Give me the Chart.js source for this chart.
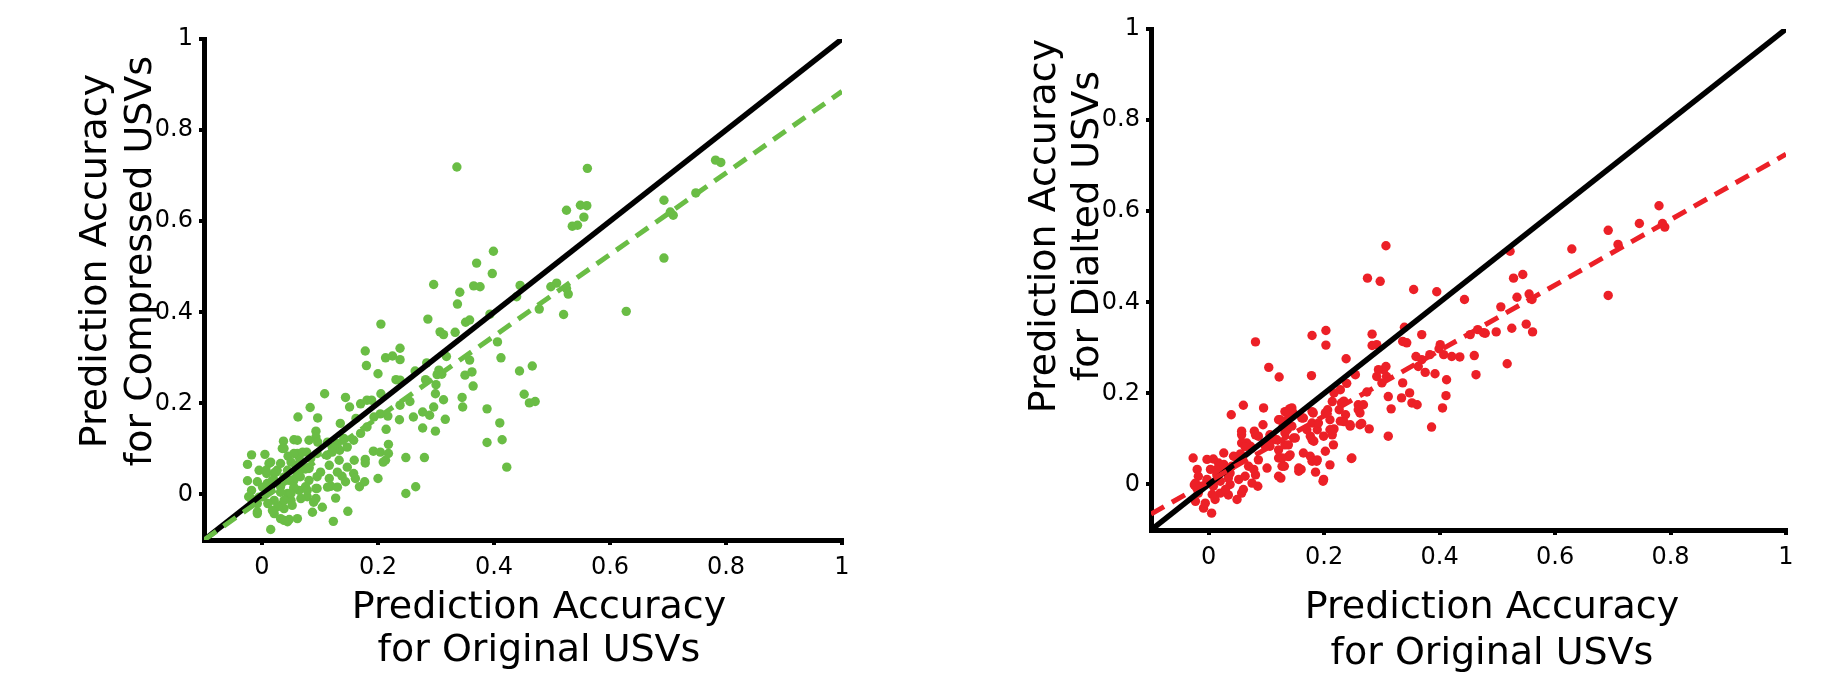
<!DOCTYPE html>
<html>
<head>
<meta charset="utf-8">
<script src="https://cdn.jsdelivr.net/npm/chart.js@4"></script>
<style>
  html, body { margin: 0; padding: 0; background: #fff; }
  #wrap { position: relative; width: 1845px; height: 676px; }
  canvas { position: absolute; top: 0; }
</style>
</head>
<body>
<div id="wrap">
  <canvas id="compressedChart" width="923" height="676" style="left:0px"></canvas>
  <canvas id="dilatedChart" width="922" height="676" style="left:923px"></canvas>
</div>
<script>
// axis range and ticks (same for both panels)
const axisMin = -0.1;
const axisMax = 1;
const tickValues = [0, 0.2, 0.4, 0.6, 0.8, 1];
const tickLabels = ['0', '0.2', '0.4', '0.6', '0.8', '1'];

// [original accuracy, compressed accuracy]
const compressedPairs = [
  [0.336,0.719],[0.561,0.716],
  [0.525,0.624],[0.549,0.635],[0.560,0.634],[0.555,0.609],[0.535,0.589],[0.544,0.591],
  [0.693,0.646],[0.709,0.613],[0.704,0.620],[0.693,0.519],[0.748,0.662],[0.782,0.734],[0.791,0.729],
  [0.399,0.534],[0.370,0.508],[0.397,0.485],[0.296,0.461],[0.341,0.444],[0.337,0.418],[0.365,0.458],[0.376,0.456],
  [0.445,0.459],[0.439,0.434],[0.498,0.456],[0.508,0.464],[0.525,0.452],[0.528,0.440],[0.478,0.407],[0.520,0.395],[0.628,0.402],
  [0.393,0.396],[0.351,0.378],[0.358,0.383],[0.286,0.385],[0.205,0.374],[0.307,0.357],[0.313,0.351],[0.333,0.356],
  [0.406,0.335],[0.412,0.300],[0.318,0.303],[0.358,0.295],[0.350,0.262],[0.362,0.269],[0.364,0.238],[0.444,0.271],
  [0.466,0.282],[0.452,0.220],[0.461,0.201],[0.471,0.204],
  [0.284,0.289],[0.305,0.273],[0.302,0.263],[0.310,0.264],[0.300,0.241],[0.299,0.221],[0.313,0.208],[0.296,0.192],
  [0.289,0.174],[0.277,0.181],[0.282,0.252],[0.264,0.271],[0.345,0.213],[0.346,0.192],[0.388,0.188],[0.410,0.157],
  [0.388,0.114],[0.414,0.120],[0.422,0.060],[0.316,0.165],[0.299,0.139],[0.277,0.146],[0.261,0.170],[0.255,0.204],
  [0.237,0.164],[0.217,0.172],[0.214,0.143],[0.218,0.110],[0.280,0.081],[0.248,0.081],[0.200,0.035],[0.248,0.002],[0.265,0.017],
  [0.178,0.315],[0.180,0.283],[0.200,0.265],[0.205,0.221],[0.213,0.300],[0.225,0.304],[0.238,0.321],[0.238,0.296],
  [0.231,0.252],[0.238,0.251],[0.238,0.196],
  [0.108,0.221],[0.144,0.213],[0.151,0.192],[0.170,0.199],[0.181,0.207],[0.189,0.207],[0.083,0.191],[0.062,0.170],
  [0.096,0.168],[0.135,0.156],[0.093,0.139],[0.093,0.126],[0.081,0.119],[0.055,0.120],[0.037,0.117],[0.035,0.101],
  [0.045,0.084],[0.061,0.090],[0.077,0.093],[0.095,0.090],[0.112,0.086],[0.134,0.097],[0.147,0.104],[0.158,0.119],
  [0.170,0.134],[0.181,0.148],[0.193,0.170],[0.204,0.177],[0.162,0.167],[0.141,0.123],[0.130,0.112],[0.121,0.093],
  [-0.018,0.087],[0.005,0.088],[-0.025,0.066],[0.012,0.068],[-0.005,0.053],[0.008,0.046],[0.026,0.053],[-0.025,0.030],
  [-0.008,0.028],[-0.018,0.009],[-0.023,-0.005],[-0.008,-0.020],[-0.008,-0.042],[0.001,-0.005],[0.009,0.024],[0.021,0.031],
  [0.032,0.017],[0.044,0.002],[0.021,-0.013],[0.021,-0.042],[0.032,-0.053],[0.044,-0.060],[0.061,-0.053],[0.015,-0.077],
  [0.038,-0.031],[0.050,-0.013],[0.064,0.009],[0.078,-0.005],[0.087,-0.039],[0.089,-0.017],[0.095,0.013],[0.081,0.031],
  [0.095,0.039],[0.066,0.039],[0.055,0.031],[0.044,0.053],[0.058,0.064],[0.075,0.056],[0.104,-0.028],[0.123,-0.059],
  [0.127,-0.008],[0.119,0.018],[0.138,0.040],[0.144,0.028],[0.148,-0.037],[0.158,0.046],[0.168,0.017],[0.177,0.028],
  [0.178,0.077],[0.178,0.069],[0.192,0.095],[0.204,0.093],[0.213,0.075],[0.218,0.090],
  [0.064,0.082],[0.081,0.060],[0.061,0.045],[0.055,0.013],[0.075,0.017],[0.032,0.068],[0.021,0.047],
  [0.209,0.071],[0.159,0.075],[0.147,0.060],[0.161,0.035],[0.093,-0.009],[0.078,0.009],[0.047,-0.055],[0.038,-0.057],
  [0.032,-0.024],[0.052,-0.024],[0.067,-0.009],[0.116,0.035],[0.130,0.049],[0.116,0.064],[0.133,0.075],[0.121,0.104],
  [0.113,0.115],[0.096,0.115],[0.061,0.119],[0.038,0.101],[0.055,0.090],[0.070,0.093],[0.084,0.079],[0.067,0.071],
  [0.050,0.071],[0.015,0.071],[0.007,0.053],[-0.019,-0.009],[-0.005,-0.006],[0.001,0.016],[0.015,0.009],[0.018,0.031],
  [0.024,0.049],[0.038,0.038],[0.047,0.031],[0.055,0.016],[0.050,0.002],[0.038,-0.013],[0.027,-0.027],[0.018,-0.035],
  [0.010,-0.020],[-0.008,-0.038],[0.032,0.005],[0.064,0.053],[0.081,0.057],[0.093,0.013],[0.101,0.049],[0.113,0.016],[0.130,0.016]
];

// [original accuracy, dilated accuracy]
const dilatedPairs = [
  [0.307,0.524],[0.275,0.453],[0.297,0.446],[0.355,0.428],[0.395,0.423],[0.443,0.406],[0.522,0.512],[0.629,0.517],
  [0.528,0.453],[0.544,0.461],[0.534,0.411],[0.555,0.418],[0.560,0.406],[0.506,0.390],[0.525,0.343],[0.550,0.352],
  [0.561,0.335],[0.517,0.265],[0.498,0.335],[0.479,0.332],[0.466,0.340],[0.453,0.329],[0.460,0.283],[0.463,0.241],
  [0.435,0.280],[0.421,0.281],[0.407,0.285],[0.401,0.307],[0.383,0.285],[0.369,0.274],[0.359,0.281],[0.363,0.259],
  [0.375,0.246],[0.392,0.243],[0.412,0.230],[0.411,0.195],[0.405,0.168],[0.386,0.126],[0.369,0.329],[0.339,0.345],
  [0.343,0.311],[0.336,0.314],[0.336,0.223],[0.348,0.201],[0.334,0.190],[0.352,0.179],[0.361,0.175],[0.311,0.193],
  [0.316,0.166],[0.311,0.106],[0.291,0.237],[0.303,0.252],[0.307,0.259],[0.294,0.252],[0.283,0.305],[0.291,0.307],
  [0.283,0.330],[0.238,0.276],[0.254,0.241],[0.239,0.222],[0.228,0.208],[0.217,0.201],[0.206,0.164],[0.210,0.142],
  [0.217,0.122],[0.199,0.106],[0.210,0.043],[0.198,0.007],[0.247,0.057],[0.262,0.131],[0.278,0.122],[0.262,0.157],
  [0.259,0.175],[0.228,0.139],[0.245,0.128],[0.234,0.183],[0.226,0.164],[0.179,0.327],[0.203,0.338],[0.203,0.306],
  [0.178,0.239],[0.122,0.236],[0.104,0.257],[0.081,0.313],[0.039,0.153],[0.060,0.174],[0.095,0.168],[0.140,0.166],
  [0.146,0.157],[0.164,0.146],[0.181,0.157],[0.179,0.135],[0.188,0.120],[0.176,0.106],[0.182,0.095],[0.164,0.069],
  [0.176,0.062],[0.188,0.054],[0.185,0.027],[0.160,0.033],[0.156,0.029],[0.131,0.040],[0.125,0.014],[0.121,0.058],
  [0.141,0.065],[0.132,0.087],[0.147,0.102],[0.136,0.120],[0.136,0.142],[0.129,0.128],[0.144,0.128],[0.121,0.142],
  [0.098,0.084],[0.105,0.091],[0.112,0.102],[0.094,0.131],[0.086,0.106],[0.079,0.117],[0.072,0.084],[0.066,0.091],
  [0.057,0.091],[0.057,0.117],[0.055,0.067],[0.069,0.040],[0.078,0.033],[0.085,-0.004],[0.075,0.003],[0.101,0.036],
  [0.060,-0.011],[0.049,-0.033],[0.052,0.011],[0.037,0.025],[0.037,0.000],[0.026,0.069],[0.017,0.047],[0.014,0.033],
  [0.026,0.044],[0.003,0.033],[-0.020,0.033],[-0.027,0.058],[-0.003,0.055],[0.008,0.056],[0.043,0.062],[0.032,0.025],
  [-0.003,0.007],[0.008,-0.004],[0.020,-0.019],[0.034,-0.023],[0.011,-0.033],[-0.009,-0.052],[0.005,-0.063],[-0.023,-0.037],
  [-0.025,-0.001],[-0.018,0.018],[-0.012,-0.004],[0.020,0.007],
  [0.399,0.298],[0.476,0.333],[0.308,0.237],[0.300,0.223],[0.274,0.203],[0.268,0.175],[0.265,0.134],
  [0.692,0.558],[0.692,0.415],[0.709,0.527],[0.746,0.573],[0.780,0.612],[0.790,0.565],[0.786,0.573],
  [0.144,0.150],[0.046,0.061],[0.057,0.109],[0.081,0.109],[0.106,0.109],[0.063,0.083],[0.075,0.080],[0.086,0.054],
  [0.081,0.021],[0.063,0.018],[0.057,-0.019],[0.029,-0.011],[0.006,-0.022],[-0.006,-0.041],[-0.018,-0.019],[-0.023,0.003],
  [-0.003,0.011],[0.014,0.022],[0.029,0.033],[0.034,0.014],[0.040,0.040],[0.121,0.018],[0.127,0.040],[0.138,0.061],
  [0.127,0.058],[0.156,0.036],[0.179,0.051],[0.199,0.011],[0.187,0.051],[0.202,0.073],[0.216,0.087],[0.214,0.109],
  [0.210,0.120],[0.190,0.135],[0.179,0.098],[0.170,0.120],[0.161,0.146],[0.179,0.160],[0.202,0.157],[0.214,0.182],
  [0.230,0.179],[0.237,0.153],[0.234,0.138],[0.245,0.131],[0.248,0.058],[0.259,0.164],[0.150,0.102],[0.138,0.087],
  [0.132,0.113],[0.118,0.098],[0.121,0.076],[0.106,0.084],[0.124,0.142],[0.132,0.160],[0.144,0.168]
];

// unity line and fitted lines (end points)
const lineX = [-0.1, 1];
const unityY = [-0.1, 1];
const compressedFitY = [-0.1, 0.885];
const dilatedFitY = [-0.065, 0.725];

const green = '#6abd45';
const red = '#ec2027';

function toPoints(pairs) {
  return pairs.map(p => ({ x: p[0], y: p[1] }));
}
function toLine(xs, ys) {
  return xs.map((x, i) => ({ x: x, y: ys[i] }));
}

// draws the two-line axis titles where the figure has them
const axisTitles = {
  id: 'axisTitles',
  afterDraw(chart, args, opts) {
    const ctx = chart.ctx;
    ctx.save();
    ctx.fillStyle = '#000';
    ctx.font = opts.font;
    ctx.textAlign = 'center';
    ctx.textBaseline = 'middle';
    opts.lines.forEach(l => {
      ctx.save();
      ctx.translate(l.x, l.y);
      if (l.vertical) ctx.rotate(-Math.PI / 2);
      ctx.fillText(l.text, 0, 0);
      ctx.restore();
    });
    ctx.restore();
  }
};

function axisOptions(fitSize, horizontal) {
  return {
    type: 'linear',
    min: axisMin,
    max: axisMax,
    afterBuildTicks: scale => { scale.ticks = tickValues.map(v => ({ value: v })); },
    afterFit: scale => {
      if (horizontal) scale.height = fitSize; else scale.width = fitSize;
    },
    ticks: {
      callback: v => tickLabels[tickValues.indexOf(v)],
      font: { family: 'DejaVu Sans', size: 24 },
      color: '#000',
      padding: horizontal ? 8 : 6,
      maxRotation: 0,
      autoSkip: false
    },
    grid: {
      display: true,
      drawOnChartArea: false,
      drawTicks: true,
      tickLength: 5,
      lineWidth: 4,
      color: '#000'
    },
    border: { display: true, width: 5, color: '#000' }
  };
}

function makeChart(id, pairs, fitY, color, layout, titles) {
  const ctx = document.getElementById(id).getContext('2d');
  return new Chart(ctx, {
    type: 'scatter',
    data: {
      datasets: [
        {
          data: toLine(lineX, fitY),
          showLine: true,
          borderColor: color,
          borderWidth: 5,
          borderDash: [15, 9],
          pointRadius: 0,
          order: 0
        },
        {
          data: toLine(lineX, unityY),
          showLine: true,
          borderColor: '#000',
          borderWidth: 5.5,
          pointRadius: 0,
          order: 1
        },
        {
          data: toPoints(pairs),
          pointRadius: 4.7,
          pointBackgroundColor: color,
          pointBorderWidth: 0,
          order: 2
        }
      ]
    },
    options: {
      responsive: false,
      animation: false,
      events: [],
      layout: { padding: { top: layout.top, right: layout.right, left: 0, bottom: 0 } },
      scales: {
        x: axisOptions(layout.xHeight, true),
        y: axisOptions(layout.yWidth, false)
      },
      plugins: {
        legend: { display: false },
        tooltip: { enabled: false },
        axisTitles: { font: '38px "DejaVu Sans"', lines: titles }
      }
    },
    plugins: [axisTitles]
  });
}

makeChart('compressedChart', compressedPairs, compressedFitY, green,
  { top: 39, right: 81, xHeight: 136, yWidth: 204 },
  [
    { text: 'Prediction Accuracy', x: 539, y: 608 },
    { text: 'for Original USVs', x: 539, y: 651 },
    { text: 'Prediction Accuracy', x: 96, y: 261, vertical: true },
    { text: 'for Compressed USVs', x: 141, y: 261, vertical: true }
  ]);

makeChart('dilatedChart', dilatedPairs, dilatedFitY, red,
  { top: 29, right: 59, xHeight: 146, yWidth: 228 },
  [
    { text: 'Prediction Accuracy', x: 569, y: 608 },
    { text: 'for Original USVs', x: 569, y: 654 },
    { text: 'Prediction Accuracy', x: 122, y: 226, vertical: true },
    { text: 'for Dialted USVs', x: 165, y: 226, vertical: true }
  ]);
</script>
</body>
</html>
